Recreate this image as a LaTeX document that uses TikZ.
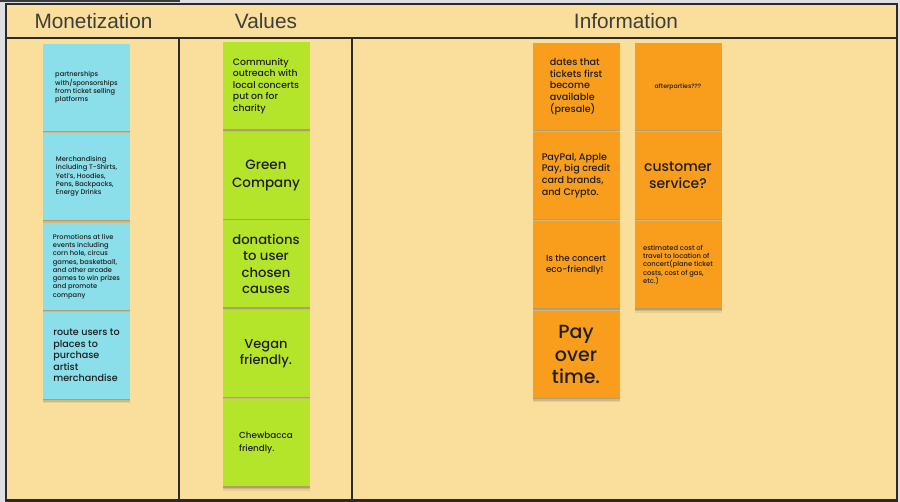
\documentclass[tikz,border=0pt]{standalone}
\usepackage{fontspec}
\IfFontExistsTF{Poppins Medium}{\setmainfont{Poppins Medium}}{\setmainfont{Poppins}[FakeBold=0.4]}
\newfontfamily\headfont{Liberation Sans}
\usetikzlibrary{shadows}
\definecolor{bgpage}{HTML}{DFDFE3}
\definecolor{topbar}{HTML}{3A3A3A}
\definecolor{board}{HTML}{F9DF9B}
\definecolor{framec}{HTML}{2A2A2A}
\definecolor{bluenote}{HTML}{8ADFEB}
\definecolor{greennote}{HTML}{B5E52A}
\definecolor{orangenote}{HTML}{F99E1C}
\definecolor{headtext}{HTML}{3D3D3D}
\definecolor{notetext}{HTML}{1E1E1E}
\newcommand{\fs}[2]{\fontsize{#1}{#2}\selectfont}
\begin{document}
\begin{tikzpicture}[x=1pt,y=-1pt,
  note/.style={minimum width=87pt, minimum height=87pt, inner sep=0pt, align=left,
    text=notetext,
    drop shadow={shadow xshift=0pt, shadow yshift=-4.5pt, opacity=0.07, fill=black},
    drop shadow={shadow xshift=0pt, shadow yshift=-3pt, opacity=0.10, fill=black},
    drop shadow={shadow xshift=0pt, shadow yshift=-1.5pt, opacity=0.14, fill=black}},
  bnote/.style={note, fill=bluenote},
  gnote/.style={note, fill=greennote},
  onote/.style={note, fill=orangenote},
  head/.style={font=\headfont\fs{20.8}{24}, text=headtext, inner sep=0pt},
  rule/.style={draw=framec, line width=2.4pt}]
% page and board
\fill[bgpage] (0,0) rectangle (900,502);
\fill[topbar] (0,0) rectangle (180,2.5);
\fill[board] (6,4) rectangle (897,501);
% frame
\draw[rule] (6,4) rectangle (897,500.5);
\draw[rule] (6,38) -- (897,38);
\draw[rule] (178.7,38) -- (178.7,500.5);
\draw[rule] (352.2,38) -- (352.2,500.5);
% headers
\node[head] (hmon) at (93.5,21) {Monetization};
\node[head] (hval) at (266,21) {Values};
\node[head] (hinf) at (626,21) {Information};
% Monetization
\node[bnote, font=\fs{6.7}{8.3}] (m1) at (86.5,87.5) {partnerships\\with/sponsorships\\from ticket selling\\platforms};
\node[bnote, font=\fs{6.7}{8.3}] (m2) at (86.5,176.5) {Merchandising\\including T-Shirts,\\Yeti's, Hoodies,\\Pens, Backpacks,\\Energy Drinks};
\node[bnote, font=\fs{6.7}{8.3}] (m3) at (86.5,266.5) {Promotions at live\\events including\\corn hole, circus\\games, basketball,\\and other arcade\\games to win prizes\\and promote\\company};
\node[bnote, font=\fs{9.6}{11.5}] (m4) at (86.5,355.5) {route users to\\places to\\purchase\\artist\\merchandise};
% Values
\node[gnote, font=\fs{9.3}{11.5}] (v1) at (266,86) {Community\\outreach with\\local concerts\\put on for\\charity};
\node[gnote, font=\fs{13.5}{17.3}, align=center] (v2) at (266,175.5) {Green\\Company};
\node[gnote, font=\fs{13.2}{16.4}, align=center] (v3) at (266,264) {donations\\to user\\chosen\\causes};
\node[gnote, font=\fs{13}{15.7}, align=center] (v4) at (266,353.5) {Vegan\\friendly.};
\node[gnote, font=\fs{8.8}{12.3}] (v5) at (266,443) {Chewbacca\\friendly.};
% Information
\node[onote, font=\fs{9.6}{11.7}] (i1) at (576,86.5) {dates that\\tickets first\\become\\available\\(presale)};
\node[onote, font=\fs{9.6}{11.7}] (i2) at (576,175.5) {PayPal, Apple\\Pay, big credit\\card brands,\\and Crypto.};
\node[onote, font=\fs{8.8}{10.7}] (i3) at (576,265) {Is the concert\\eco-friendly!};
\node[onote, font=\fs{19}{22.7}, align=center] (i4) at (576,354.5) {Pay\\over\\time.};
\node[onote, font=\fs{6.2}{7.5}, align=center] (i5) at (678,86.5) {afterparties???};
\node[onote, font=\fs{14}{17.3}, align=center] (i6) at (678,175.5) {customer\\service?};
\node[onote, font=\fs{6.8}{8.4}] (i7) at (678,265) {estimated cost of\\travel to location of\\concert(plane ticket\\costs, cost of gas,\\etc.)};
\end{tikzpicture}
\end{document}
